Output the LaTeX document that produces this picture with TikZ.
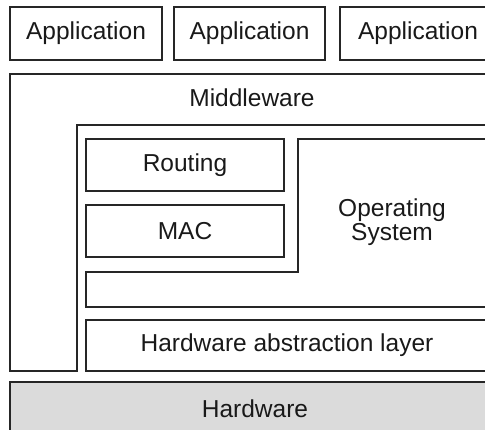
\documentclass[tikz,border=0pt]{standalone}
\usepackage{fontspec}
\setmainfont{Liberation Sans}
\begin{document}
\begin{tikzpicture}[x=1pt,y=-1pt,
  ln/.style={draw=black!85, line width=1.6pt},
  box/.style={ln, rectangle, inner sep=0pt, text=black!90, font=\fontsize{24.5}{28}\selectfont},
  lbl/.style={text=black!90, font=\fontsize{24.5}{28}\selectfont, inner sep=0pt, align=center}]
\useasboundingbox (0,0) rectangle (485,430);
\clip (0,0) rectangle (485,430);
% Applications
\node[box, minimum width=152pt, minimum height=53pt] (app1) at (86,33.5) {Application};
\node[box, minimum width=151pt, minimum height=53pt] (app2) at (249.5,33.5) {Application};
\node[box, minimum width=156pt, minimum height=53pt] (app3) at (418,33.5) {Application};
% Middleware (inverted L)
\draw[ln] (10,74) -- (494,74) -- (494,125) -- (77,125) -- (77,371) -- (10,371) -- cycle;
\node[lbl] (mw) at (252,98) {Middleware};
% Operating system (stepped)
\draw[ln] (298,139) -- (488,139) -- (488,307) -- (86,307) -- (86,272) -- (298,272) -- cycle;
\node[lbl] (os) at (392,222) {Operating\\[-4pt]System};
% Routing and MAC
\node[box, minimum width=198pt, minimum height=52pt] (routing) at (185,165) {Routing};
\node[box, minimum width=198pt, minimum height=52pt] (mac) at (185,231) {MAC};
% Hardware abstraction layer
\node[box, minimum width=402pt, minimum height=51pt] (hal) at (287,345.5) {Hardware abstraction layer};
% Hardware
\node[box, fill=black!14, minimum width=490pt, minimum height=58pt] (hw) at (255,411) {};
\node[lbl] (hwl) at (255,409) {Hardware};
\end{tikzpicture}
\end{document}
